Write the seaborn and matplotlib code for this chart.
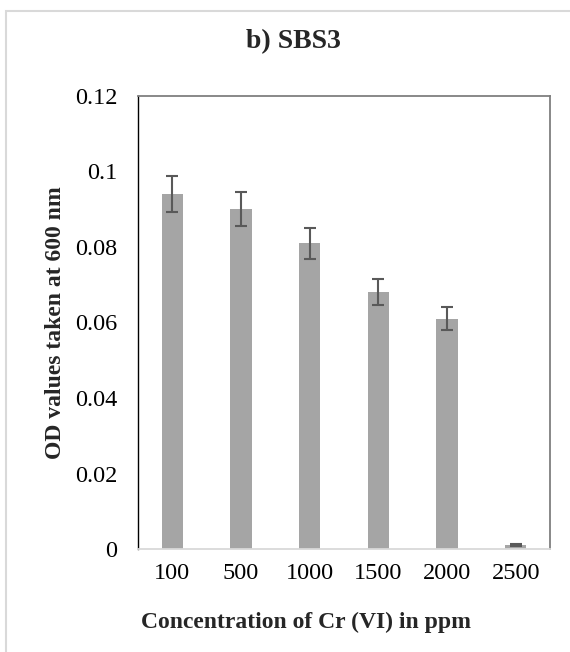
import matplotlib
matplotlib.use("Agg")
import matplotlib.pyplot as plt
from matplotlib.patches import Rectangle
import seaborn as sns
import pandas as pd

concentrations = ["100", "500", "1000", "1500", "2000", "2500"]
od_values = [0.094, 0.090, 0.081, 0.068, 0.061, 0.001]
od_errors = [0.0048, 0.0045, 0.0041, 0.0034, 0.0031, 0.0002]
y_ticks = [0, 0.02, 0.04, 0.06, 0.08, 0.10, 0.12]
y_tick_labels = ["0", "0.02", "0.04", "0.06", "0.08", "0.1", "0.12"]

sns.set_theme(style="white")
plt.rcParams["font.family"] = ["Liberation Serif", "DejaVu Serif"]

df = pd.DataFrame({"conc": concentrations, "od": od_values})

W, H = 570, 652
fig = plt.figure(figsize=(W / 100, H / 100), dpi=100)
fig.patch.set_facecolor("white")
L, R, T, B = 138, 550, 96, 549
ax = fig.add_axes([L / W, (H - B) / H, (R - L) / W, (B - T) / H])

sns.barplot(data=df, x="conc", y="od", color="#a5a5a5", saturation=1,
            width=0.31, errorbar=None, ax=ax, linewidth=0)
ax.errorbar(x=list(range(len(concentrations))), y=od_values, yerr=od_errors,
            fmt="none", ecolor="#595959", elinewidth=1.5, capsize=4.3,
            capthick=1.5, zorder=3)

ax.set_ylim(0, 0.12)
ax.set_xlim(-0.5, len(concentrations) - 0.5)
ax.set_yticks(y_ticks)
ax.set_yticklabels(y_tick_labels)
ax.tick_params(axis="y", length=0, pad=15, labelsize=17.5, labelcolor="black")
ax.tick_params(axis="x", length=0, pad=10, labelsize=17.5, labelcolor="black")

for side in ["top", "right"]:
    ax.spines[side].set_visible(True)
    ax.spines[side].set_color("#7f7f7f")
    ax.spines[side].set_linewidth(1.3)
ax.spines["left"].set_color("black")
ax.spines["left"].set_linewidth(1.0)
ax.spines["bottom"].set_color("#d9d9d9")
ax.spines["bottom"].set_linewidth(1.3)

ax.set_xlabel("Concentration of Cr (VI) in ppm", fontsize=17, fontweight="bold")
ax.xaxis.set_label_coords((306 - L) / (R - L), (B - 622) / (B - T))
ax.xaxis.label.set_va("center")
ax.set_ylabel("OD values taken at 600 nm", fontsize=17, fontweight="bold")
ax.yaxis.set_label_coords((56 - L) / (R - L), 0.5)
ax.yaxis.label.set_va("center")

ax.set_title("b) SBS3", fontsize=20, fontweight="bold",
             x=(293 - L) / (R - L), y=(B - 50) / (B - T), va="center")

fig.add_artist(Rectangle((6 / W, -0.1), 1.0, (H - 11) / H + 0.1,
                         transform=fig.transFigure, fill=False,
                         ec="#d9d9d9", lw=1.5))

fig.savefig("out.png", dpi=100, facecolor="white")
